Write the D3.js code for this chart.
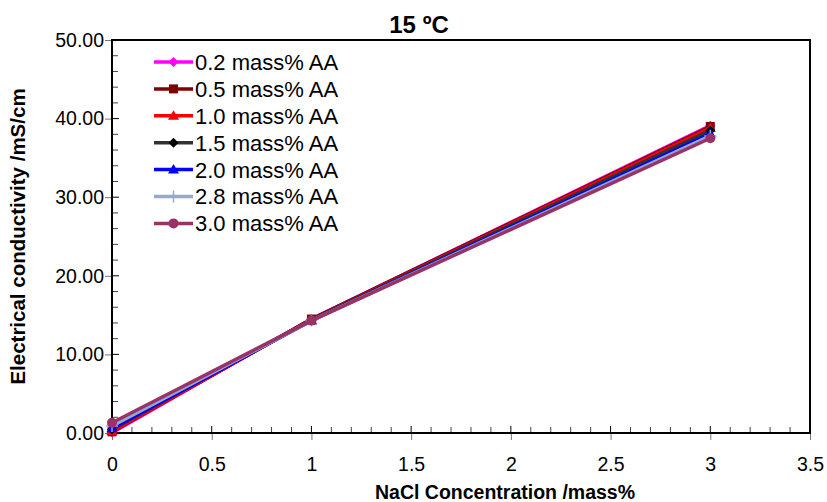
<!DOCTYPE html>
<html><head><meta charset="utf-8">
<script src="https://cdn.jsdelivr.net/npm/d3@7"></script>
<style>body{margin:0;background:#fff}svg{display:block}</style>
</head><body>
<svg id="c" width="827" height="502"></svg>
<script>
const xValues = [0, 1, 3];
const seriesNames = ["0.2 mass% AA","0.5 mass% AA","1.0 mass% AA","1.5 mass% AA","2.0 mass% AA","2.8 mass% AA","3.0 mass% AA"];
const s02 = [0.05, 14.5, 39.1];
const s05 = [0.15, 14.5, 39.0];
const s10 = [0.25, 14.4, 38.8];
const s15 = [0.45, 14.4, 38.5];
const s20 = [0.6, 14.3, 38.1];
const s28 = [0.9, 14.3, 37.8];
const s30 = [1.3, 14.3, 37.5];
const xTicks = [0, 0.5, 1, 1.5, 2, 2.5, 3, 3.5];
const yTicks = [0, 10, 20, 30, 40, 50];
const title = "15 ºC";
const xTitle = "NaCl Concentration /mass%";
const yTitle = "Electrical conductivity /mS/cm";

const seriesVals = [s02, s05, s10, s15, s20, s28, s30];
const lineColors = ["#FF00FF","#800000","#FF0000","#333333","#0000FF","#95A9D3","#993366"];
const markColors = ["#FF00FF","#800000","#FF0000","#000000","#0000FF","#95A9D3","#993366"];
const shapes = ["diamond","square","triangle","diamond","triangle","plus","circle"];

const svg = d3.select("#c");
const L = 112, R = 810, T = 40, B = 433;
const x = d3.scaleLinear().domain([0, 3.5]).range([L, R]);
const y = d3.scaleLinear().domain([0, 50]).range([B, T]);
const font = "Arial, 'Liberation Sans', sans-serif";

// minor ticks
const xMinor = d3.range(0, 3.5001, 0.1).filter(v => Math.abs(v*2 - Math.round(v*2)) > 1e-6);
svg.append("g").selectAll("line").data(xMinor).join("line")
  .attr("x1", d => x(d)).attr("x2", d => x(d)).attr("y1", B).attr("y2", B-6)
  .attr("stroke", "#444").attr("stroke-width", 1);
const yMinor = d3.range(0, 50.001, 2).filter(v => v % 10 !== 0);
svg.append("g").selectAll("line").data(yMinor).join("line")
  .attr("x1", L).attr("x2", L+6).attr("y1", d => y(d)).attr("y2", d => y(d))
  .attr("stroke", "#444").attr("stroke-width", 1);

// major ticks via axes
const xAxis = svg.append("g").attr("transform", `translate(0,${B})`)
  .call(d3.axisBottom(x).tickValues(xTicks).tickFormat(d => d3.format("")(d)).tickSize(7).tickPadding(17));
const yAxis = svg.append("g").attr("transform", `translate(${L},0)`)
  .call(d3.axisLeft(y).tickValues(yTicks).tickFormat(d3.format(".2f")).tickSize(7).tickPadding(1));
[xAxis, yAxis].forEach(g => {
  g.select(".domain").remove();
  g.selectAll(".tick line").attr("stroke", "#777").attr("stroke-width", 1);
  g.selectAll("text").attr("font-family", font).attr("font-size", 19.5).attr("fill", "#000");
});
// inner parts of major ticks
svg.append("g").selectAll("line").data(xTicks).join("line")
  .attr("x1", d => x(d)).attr("x2", d => x(d)).attr("y1", B).attr("y2", B-7)
  .attr("stroke", "#000").attr("stroke-width", 1);
svg.append("g").selectAll("line").data(yTicks).join("line")
  .attr("x1", L).attr("x2", L+7).attr("y1", d => y(d)).attr("y2", d => y(d))
  .attr("stroke", "#000").attr("stroke-width", 1);

// frame
svg.append("rect").attr("x", L).attr("y", T).attr("width", R-L).attr("height", B-T)
  .attr("fill", "none").attr("stroke", "#000").attr("stroke-width", 2);

// series
const line = d3.line().x((d,i) => x(xValues[i])).y(d => y(d));
function marker(g, shape, cx, cy, color) {
  if (shape === "diamond") g.append("path").attr("d", `M${cx},${cy-5}L${cx+5},${cy}L${cx},${cy+5}L${cx-5},${cy}Z`).attr("fill", color);
  else if (shape === "square") g.append("rect").attr("x", cx-4.5).attr("y", cy-4.5).attr("width", 9).attr("height", 9).attr("fill", color);
  else if (shape === "triangle") g.append("path").attr("d", `M${cx},${cy-5.5}L${cx+5.5},${cy+4}L${cx-5.5},${cy+4}Z`).attr("fill", color);
  else if (shape === "circle") g.append("circle").attr("cx", cx).attr("cy", cy).attr("r", 5).attr("fill", color);
  else if (shape === "plus") g.append("path").attr("d", `M${cx-6},${cy}H${cx+6}M${cx},${cy-6}V${cy+6}`).attr("stroke", color).attr("stroke-width", 1.5);
}
const sg = svg.append("g");
seriesVals.forEach((vals, k) => {
  sg.append("path").datum(vals).attr("d", line).attr("fill", "none")
    .attr("stroke", lineColors[k]).attr("stroke-width", 3.5).attr("stroke-linejoin", "round");
  vals.forEach((v, i) => marker(sg, shapes[k], x(xValues[i]), y(v), markColors[k]));
});

// legend
const lg = svg.append("g");
seriesNames.forEach((name, k) => {
  const yy = 62 + k * 26.9;
  lg.append("line").attr("x1", 154).attr("x2", 193).attr("y1", yy).attr("y2", yy)
    .attr("stroke", lineColors[k]).attr("stroke-width", 3.5);
  marker(lg, shapes[k], 173.5, yy, markColors[k]);
  lg.append("text").attr("x", 195).attr("y", yy).attr("dy", "0.36em")
    .attr("font-family", font).attr("font-size", 22).text(name);
});

// titles
svg.append("text").attr("x", 419).attr("y", 33).attr("text-anchor", "middle")
  .attr("font-family", font).attr("font-weight", "bold").attr("font-size", 24).text(title);
svg.append("text").attr("x", 505).attr("y", 499).attr("text-anchor", "middle")
  .attr("font-family", font).attr("font-weight", "bold").attr("font-size", 19.5).text(xTitle);
svg.append("text").attr("transform", `translate(25,${(T+B)/2}) rotate(-90)`).attr("text-anchor", "middle")
  .attr("font-family", font).attr("font-weight", "bold").attr("font-size", 20.5).text(yTitle);
</script>
</body></html>
